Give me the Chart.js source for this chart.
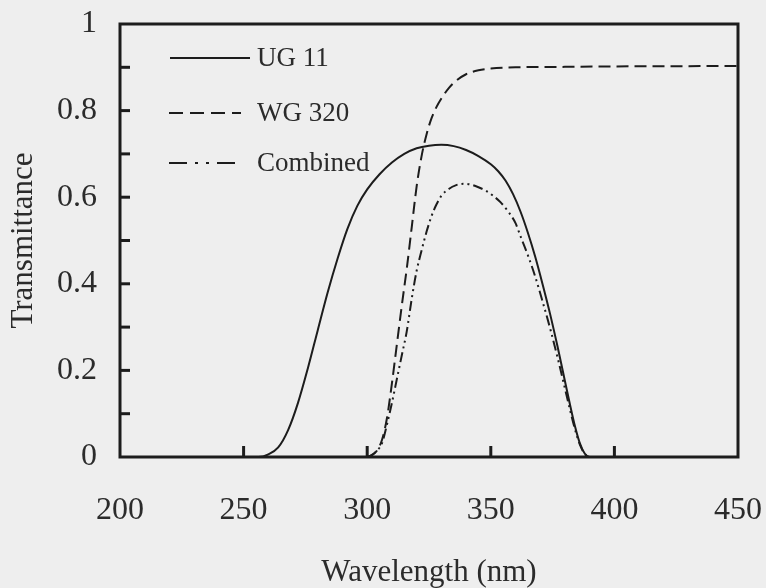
<!DOCTYPE html>
<html>
<head>
<meta charset="utf-8">
<script src="https://cdn.jsdelivr.net/npm/chart.js@4/dist/chart.umd.min.js"></script>
<style>
  html, body { margin: 0; padding: 0; background: #eeeeee; }
  #wrap { width: 766px; height: 588px; position: relative; }
</style>
</head>
<body>
<div id="wrap"><canvas id="c"></canvas></div>
<script>
// ---- data ----
const ug11Wavelength = [250, 256, 260, 264, 268, 272, 276, 280, 284, 288, 292, 296, 300, 305, 310, 315, 320, 325, 330, 335, 340, 345, 350, 353, 356, 359, 362, 365, 368, 371, 374, 377, 380, 382, 384, 386, 388, 390, 450];
const ug11Trans = [0, 0, 0.006, 0.022, 0.062, 0.125, 0.205, 0.293, 0.38, 0.458, 0.527, 0.58, 0.618, 0.653, 0.68, 0.70, 0.713, 0.719, 0.721, 0.718, 0.709, 0.695, 0.676, 0.66, 0.638, 0.607, 0.567, 0.518, 0.462, 0.398, 0.33, 0.255, 0.175, 0.122, 0.072, 0.032, 0.008, 0, 0];

const wg320Wavelength = [300, 302, 304, 306, 308, 310, 312, 314, 316, 318, 320, 322, 324, 326, 328, 330, 333, 336, 340, 345, 350, 360, 380, 400, 450];
const wg320Trans = [0, 0.005, 0.015, 0.04, 0.09, 0.17, 0.26, 0.35, 0.435, 0.53, 0.625, 0.695, 0.745, 0.782, 0.808, 0.828, 0.852, 0.869, 0.884, 0.893, 0.897, 0.90, 0.901, 0.902, 0.903];

const combinedWavelength = [300, 302, 304, 306, 308, 310, 312, 314, 316, 318, 320, 322, 324, 326, 328, 330, 333, 336, 339, 342, 345, 348, 351, 354, 357, 360, 362, 365, 368, 371, 374, 377, 380, 382, 384, 386, 388, 390];
const combinedTrans = [0, 0.005, 0.015, 0.032, 0.075, 0.125, 0.18, 0.235, 0.29, 0.365, 0.43, 0.477, 0.52, 0.556, 0.583, 0.603, 0.619, 0.628, 0.631, 0.629, 0.623, 0.615, 0.603, 0.588, 0.567, 0.54, 0.51, 0.466, 0.416, 0.358, 0.297, 0.23, 0.158, 0.11, 0.065, 0.029, 0.007, 0];

const seriesLabels = ['UG 11', 'WG 320', 'Combined'];
const xTickMarks = [250, 300, 350, 400];
const yTickMarks = [0.1, 0.2, 0.3, 0.4, 0.5, 0.6, 0.7, 0.8, 0.9];
const xAxisTitle = 'Wavelength (nm)';
const yAxisTitle = 'Transmittance';

// ---- styling ----
const INK = '#1c1c1c';
const TEXT = '#2b2b2b';
const SERIF = "'Liberation Serif', 'Times New Roman', serif";

function pts(xs, ys) { return xs.map((x, i) => ({ x: x, y: ys[i] })); }

const legendDashes = [[], [14, 7], [18, 8, 3, 8, 3, 8]];

const framePlugin = {
  id: 'frameAndLegend',
  afterDatasetsDraw(chart) {
    const { ctx, chartArea: a, scales } = chart;
    ctx.save();
    ctx.strokeStyle = INK;
    // inward tick marks
    ctx.lineWidth = 3;
    ctx.lineCap = 'butt';
    yTickMarks.forEach(v => {
      const y = scales.y.getPixelForValue(v);
      ctx.beginPath(); ctx.moveTo(a.left, y); ctx.lineTo(a.left + 10, y); ctx.stroke();
    });
    xTickMarks.forEach(v => {
      const x = scales.x.getPixelForValue(v);
      ctx.beginPath(); ctx.moveTo(x, a.bottom); ctx.lineTo(x, a.bottom - 11); ctx.stroke();
    });
    // frame
    ctx.lineWidth = 3;
    ctx.strokeRect(a.left, a.top, a.right - a.left, a.bottom - a.top);
    // legend inside plot
    const rows = [34, 89, 139];
    const lineStart = [a.left + 50, a.left + 49, a.left + 49];
    const lineEnd = [a.left + 130, a.left + 121, a.left + 115];
    ctx.font = '27px ' + SERIF;
    ctx.textBaseline = 'middle';
    ctx.textAlign = 'left';
    chart.data.datasets.forEach((ds, i) => {
      const y = a.top + rows[i];
      ctx.lineWidth = 2;
      ctx.setLineDash(legendDashes[i]);
      ctx.beginPath(); ctx.moveTo(lineStart[i], y); ctx.lineTo(lineEnd[i], y); ctx.stroke();
      ctx.setLineDash([]);
      ctx.fillStyle = TEXT;
      ctx.fillText(ds.label, a.left + 137, y + 1);
    });
    ctx.restore();
  }
};

new Chart(document.getElementById('c'), {
  type: 'line',
  data: {
    datasets: [
      { label: seriesLabels[0], data: pts(ug11Wavelength, ug11Trans), borderColor: INK, borderWidth: 2, borderDash: [] },
      { label: seriesLabels[1], data: pts(wg320Wavelength, wg320Trans), borderColor: INK, borderWidth: 2, borderDash: [12, 6] },
      { label: seriesLabels[2], data: pts(combinedWavelength, combinedTrans), borderColor: INK, borderWidth: 2, borderDash: [10, 4, 2, 4, 2, 4] }
    ]
  },
  options: {
    responsive: true,
    maintainAspectRatio: false,
    animation: false,
    layout: { padding: { left: 0, right: 28, top: 24, bottom: 0 } },
    elements: { point: { radius: 0 }, line: { cubicInterpolationMode: 'monotone', fill: false } },
    plugins: { legend: { display: false }, tooltip: { enabled: false } },
    scales: {
      x: {
        type: 'linear', min: 200, max: 450,
        grid: { display: false, drawTicks: false },
        border: { display: false },
        ticks: { stepSize: 50, padding: 34, color: TEXT, font: { family: SERIF, size: 32 } },
        title: { display: true, text: xAxisTitle, color: TEXT, font: { family: SERIF, size: 31, lineHeight: 1 }, padding: { top: 0, bottom: 0 } },
        afterFit: s => { s.height = 131; s.paddingLeft = 0; s.paddingRight = 0; }
      },
      y: {
        type: 'linear', min: 0, max: 1,
        grid: { display: false, drawTicks: false },
        border: { display: false },
        ticks: { stepSize: 0.2, padding: 23, color: TEXT, font: { family: SERIF, size: 32 },
                 callback: v => String(+Number(v).toFixed(1)) },
        title: { display: true, text: yAxisTitle, color: TEXT, font: { family: SERIF, size: 31, lineHeight: 1 }, padding: { top: 8, bottom: 0 } },
        afterFit: s => { s.width = 120; s.paddingTop = 0; s.paddingBottom = 0; }
      }
    }
  },
  plugins: [framePlugin]
});
</script>
</body>
</html>
